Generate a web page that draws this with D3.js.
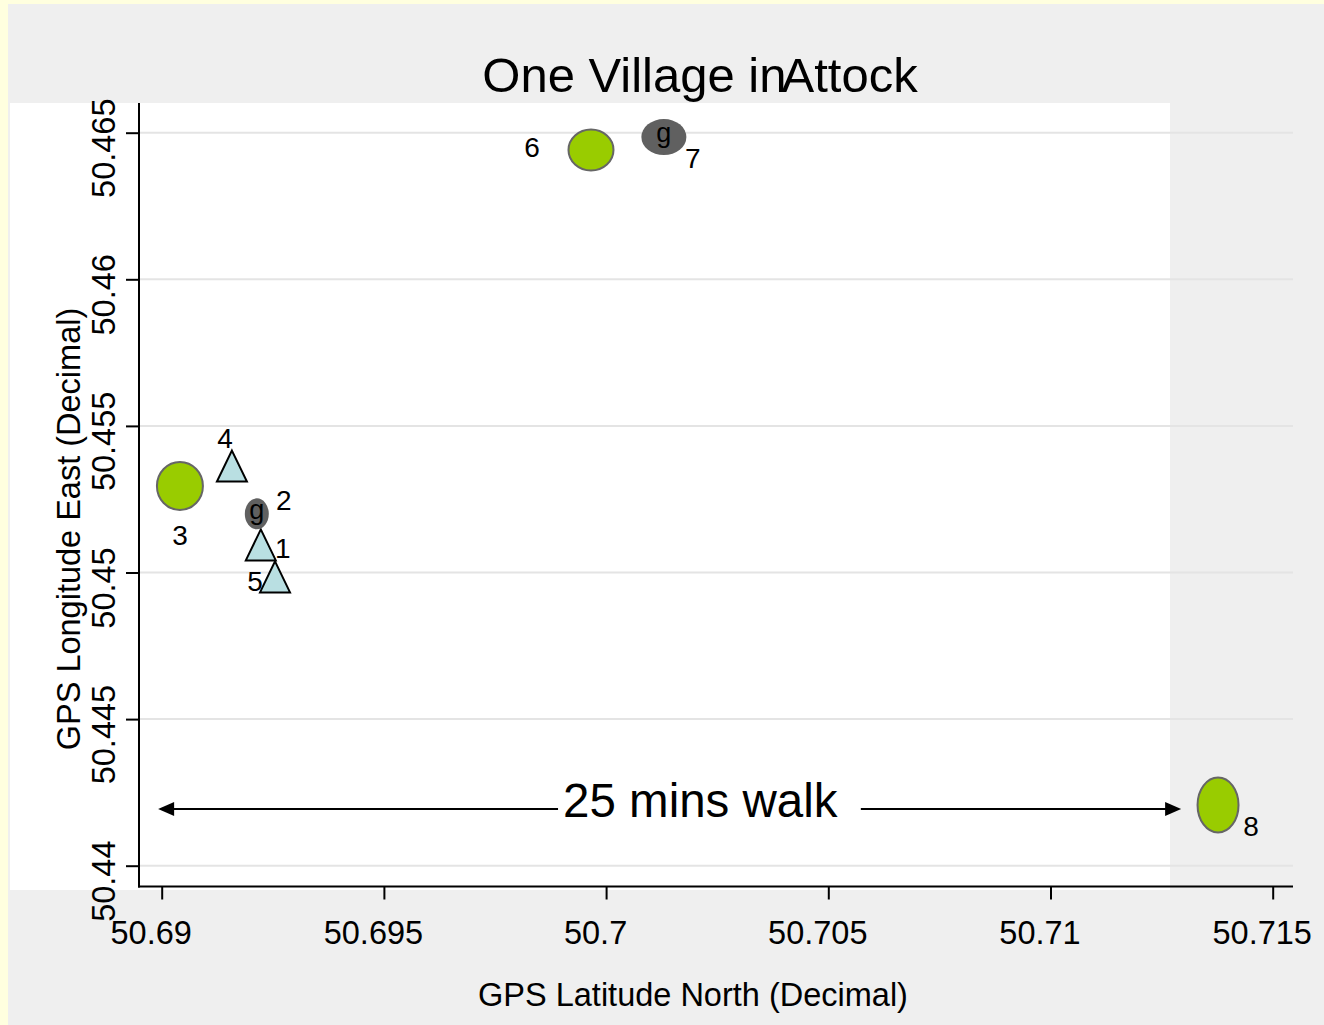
<!DOCTYPE html>
<html>
<head>
<meta charset="utf-8">
<script src="https://cdn.jsdelivr.net/npm/d3@7"></script>
<style>
  body { margin: 0; }
  svg { display: block; font-family: "Liberation Sans", Arial, sans-serif; }
</style>
</head>
<body>
<svg id="chart" width="1324" height="1025"></svg>
<script>
// point data
const ids = ['1', '2', '3', '4', '5', '6', '7', '8'];
const kinds = ['hh', 'g', 'school', 'hh', 'hh', 'school', 'g', 'school'];
const latNorth = [50.69223, 50.69214, 50.69041, 50.69158, 50.69255, 50.69966, 50.7013, 50.71377];
const lonEast = [50.45094, 50.45200, 50.45295, 50.45363, 50.44985, 50.46441, 50.46485, 50.44207];

const xTicks = [50.69, 50.695, 50.7, 50.705, 50.71, 50.715];
const yTicks = [50.44, 50.445, 50.45, 50.455, 50.46, 50.465];

const walkFrom = 50.68992;
const walkTo = 50.71294;
const walkAt = 50.44193;
const walkLabelAt = 50.70212;
const walkLabel = '25 mins walk';

(() => {
  let svg = d3.select('#chart');

  // backgrounds
  svg.append('rect').attr('width', 1324).attr('height', 1025).attr('fill', '#ffffdf');
  svg.append('rect').attr('x', 8).attr('y', 4).attr('width', 1316).attr('height', 1021).attr('fill', '#efefef');
  svg.append('rect').attr('x', 10).attr('y', 103).attr('width', 1160).attr('height', 787).attr('fill', '#ffffff');

  let x = d3.scaleLinear().domain([50.69, 50.715]).range([161.7, 1272.7]);
  let y = d3.scaleLinear().domain([50.44, 50.465]).range([865.7, 132.7]);

  let axisLeft = 139, axisBottom = 886.5, axisRight = 1293;
  let tickFont = 32.5;

  // horizontal grid
  svg.append('g')
    .selectAll('line')
    .data(yTicks)
    .enter()
    .append('line')
    .attr('x1', axisLeft)
    .attr('x2', axisRight)
    .attr('y1', d => y(d))
    .attr('y2', d => y(d))
    .attr('stroke', '#e4e4e4')
    .attr('stroke-width', 2);

  // x axis
  let gx = svg.append('g')
    .attr('transform', `translate(0,${axisBottom})`)
    .call(d3.axisBottom(x).tickValues(xTicks).tickSize(13).tickPadding(21).tickFormat(d3.format('')));
  gx.select('.domain').remove();
  gx.selectAll('line').attr('stroke', '#000').attr('stroke-width', 2);
  gx.selectAll('text')
    .attr('font-size', tickFont)
    .attr('fill', '#000')
    .attr('font-family', null)
    .attr('dx', -11);

  // y axis
  let gy = svg.append('g')
    .attr('transform', `translate(${axisLeft},0)`)
    .call(d3.axisLeft(y).tickValues(yTicks).tickSize(13).tickFormat(d3.format('')));
  gy.select('.domain').remove();
  gy.selectAll('line').attr('stroke', '#000').attr('stroke-width', 2);
  gy.selectAll('text')
    .attr('font-size', tickFont)
    .attr('fill', '#000')
    .attr('font-family', null)
    .attr('text-anchor', 'middle')
    .attr('x', null)
    .attr('dy', null)
    .attr('transform', 'translate(-24,15) rotate(-90)');

  svg.append('line')
    .attr('x1', axisLeft).attr('x2', axisLeft)
    .attr('y1', 103).attr('y2', axisBottom + 1)
    .attr('stroke', '#000').attr('stroke-width', 2);
  svg.append('line')
    .attr('x1', axisLeft - 1).attr('x2', axisRight)
    .attr('y1', axisBottom).attr('y2', axisBottom)
    .attr('stroke', '#000').attr('stroke-width', 2);

  // titles
  let title = svg.append('text')
    .attr('x', 700)
    .attr('y', 92)
    .attr('text-anchor', 'middle')
    .attr('font-size', 49);
  title.append('tspan').text('One Village in');
  title.append('tspan').attr('dx', -5).text('Attock');

  svg.append('text')
    .attr('x', 693)
    .attr('y', 1006)
    .attr('text-anchor', 'middle')
    .attr('font-size', tickFont)
    .text('GPS Latitude North (Decimal)');

  svg.append('text')
    .attr('transform', 'translate(80,529) rotate(-90)')
    .attr('text-anchor', 'middle')
    .attr('font-size', tickFont)
    .text('GPS Longitude East (Decimal)');

  // walk annotation
  let walk = svg.append('g');
  let walkY = y(walkAt);
  let walkText = walk.append('text')
    .attr('x', x(walkLabelAt))
    .attr('y', walkY + 8)
    .attr('text-anchor', 'middle')
    .attr('font-size', 47.5)
    .text(walkLabel);
  let bb = walkText.node().getBBox();
  let head = 16, half = 7;
  walk.append('line')
    .attr('x1', x(walkFrom) + head - 1).attr('x2', bb.x - 5)
    .attr('y1', walkY).attr('y2', walkY)
    .attr('stroke', '#000').attr('stroke-width', 2);
  walk.append('line')
    .attr('x1', bb.x + bb.width + 23).attr('x2', x(walkTo) - head + 1)
    .attr('y1', walkY).attr('y2', walkY)
    .attr('stroke', '#000').attr('stroke-width', 2);
  walk.append('path')
    .attr('d', `M${x(walkFrom)},${walkY}L${x(walkFrom) + head},${walkY - half}L${x(walkFrom) + head},${walkY + half}Z`)
    .attr('fill', '#000');
  walk.append('path')
    .attr('d', `M${x(walkTo)},${walkY}L${x(walkTo) - head},${walkY - half}L${x(walkTo) - head},${walkY + half}Z`)
    .attr('fill', '#000');

  // marker shapes: slightly squashed like the original picture
  let markerSize = {
    '2': [12, 15.5], '3': [23, 24], '6': [22.5, 20.5], '7': [22.5, 18], '8': [20.5, 27.5],
  };
  // label offsets from marker centre (text baseline)
  let labelOffset = {
    '1': [22, 13], '2': [27, -4], '3': [0, 59], '4': [-7, -18],
    '5': [-20, 14], '6': [-59, 7], '7': [29, 31], '8': [33, 31],
  };

  let points = ids.map((id, i) => ({ id: id, kind: kinds[i], lat: latNorth[i], lon: lonEast[i] }));

  let marks = svg.append('g')
    .selectAll('.point')
    .data(points)
    .enter()
    .append('g')
    .attr('class', 'point')
    .attr('transform', d => `translate(${x(d.lat)},${y(d.lon)})`);

  marks.filter(d => d.kind == 'hh')
    .append('path')
    .attr('d', 'M0,-15.5L15,15.5L-15,15.5Z')
    .attr('fill', '#b9dfe2')
    .attr('stroke', '#000')
    .attr('stroke-width', 2)
    .attr('stroke-linejoin', 'miter');

  marks.filter(d => d.kind == 'school')
    .append('ellipse')
    .attr('rx', d => markerSize[d.id][0])
    .attr('ry', d => markerSize[d.id][1])
    .attr('fill', '#99cc00')
    .attr('stroke', '#666666')
    .attr('stroke-width', 2);

  let gm = marks.filter(d => d.kind == 'g');
  gm.append('ellipse')
    .attr('rx', d => markerSize[d.id][0])
    .attr('ry', d => markerSize[d.id][1])
    .attr('fill', '#606060');
  gm.append('text')
    .attr('text-anchor', 'middle')
    .attr('y', 5)
    .attr('font-size', 27)
    .text('g');

  marks.append('text')
    .attr('x', d => labelOffset[d.id][0])
    .attr('y', d => labelOffset[d.id][1])
    .attr('text-anchor', 'middle')
    .attr('font-size', 28)
    .text(d => d.id);
})();
</script>
</body>
</html>
